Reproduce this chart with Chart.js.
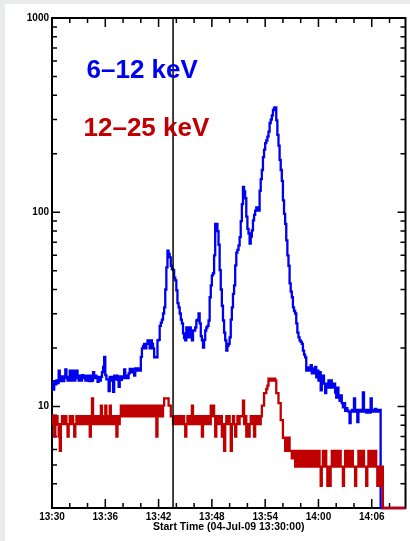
<!DOCTYPE html>
<html>
<head>
<meta charset="utf-8">
<script src="https://cdn.jsdelivr.net/npm/chart.js@4.4.1/dist/chart.umd.min.js"></script>
<style>
  html, body { margin: 0; padding: 0; background: #e9ecea; }
  #panel { position: absolute; left: 5px; top: 4px; right: 0; bottom: 0; background: #fff; }
  #lc { position: absolute; left: 0; top: 0; }
</style>
</head>
<body>
<div id="panel"></div>
<canvas id="lc" width="410" height="541"></canvas>
<script>
// light-curve bins, minutes after 13:30:00
const binMinutes = 0.125;

// 6-12 keV count rate per bin
const lowBand = [
  13.2, 12.2, 13.5, 13.0, 13.6, 13.2, 15.3, 14.0, 13.5, 14.3,
  13.5, 14.3, 15.5, 14.0, 13.6, 14.2, 15.3, 13.6, 14.5, 15.3,
  13.6, 14.2, 15.3, 14.0, 13.6, 14.4, 13.6, 14.5, 14.0, 14.4,
  13.6, 14.4, 14.0, 13.5, 14.4, 13.5, 13.6, 15.0, 14.0, 14.4,
  14.0, 13.4, 14.2, 13.6, 14.2, 15.0, 16.0, 18.0, 14.5, 13.8,
  13.8, 12.0, 14.2, 13.6, 14.2, 11.9, 14.4, 13.8, 14.4, 13.7,
  12.6, 14.3, 13.7, 14.3, 14.0, 15.5, 14.0, 14.4, 14.0, 14.8,
  15.6, 15.0, 15.6, 15.6, 14.4, 15.7, 15.7, 15.3, 15.7, 15.3,
  18.0, 19.9, 20.5, 21.0, 19.9, 21.0, 21.9, 21.0, 19.9, 21.9,
  21.0, 19.9, 17.9, 18.0, 17.9, 21.9, 22.0, 26.0, 27.0, 28.0,
  30.1, 32.4, 40.0, 52.0, 63.5, 61.0, 58.6, 53.0, 51.0, 50.3,
  46.0, 44.6, 39.6, 34.0, 32.4, 30.1, 28.0, 26.8, 23.8, 22.5,
  21.9, 25.5, 24.0, 22.7, 25.5, 24.0, 21.9, 24.6, 24.6, 25.5,
  27.7, 28.0, 30.1, 26.8, 23.0, 21.9, 20.1, 22.0, 24.6, 25.5,
  26.0, 27.7, 36.5, 42.0, 47.3, 48.5, 60.0, 87.0, 87.0, 80.0,
  68.0, 50.3, 40.0, 33.0, 27.7, 24.0, 21.9, 19.4, 20.5, 21.0,
  22.7, 28.0, 32.4, 38.0, 42.0, 53.3, 62.0, 64.0, 67.5, 74.5,
  90.0, 110, 135, 128, 118, 95.0, 82.0, 77.7, 69.0, 75.0,
  80.7, 90.7, 97.0, 102, 106, 104, 102, 129, 148, 165,
  192, 210, 227, 234, 245, 260, 288, 300, 315, 336,
  345, 347, 297, 250, 220, 186, 165, 145, 115, 98.0,
  87.0, 71.6, 60.0, 53.0, 43.0, 39.0, 36.5, 32.4, 31.0, 30.1,
  26.8, 24.0, 22.7, 21.9, 21.5, 21.0, 19.4, 18.5, 17.9, 15.3,
  15.9, 15.3, 15.9, 16.3, 14.8, 15.7, 14.8, 16.0, 14.1, 15.3,
  13.6, 15.0, 12.1, 13.1, 14.4, 13.1, 11.7, 13.1, 12.5, 13.6,
  12.5, 13.6, 13.1, 12.5, 13.1, 11.8, 11.1, 12.5, 11.1, 10.7,
  11.4, 10.4, 9.9, 10.4, 9.5, 9.8, 9.5, 9.4, 8.2, 9.4,
  9.6, 9.4, 11.0, 9.4, 9.6, 8.3, 9.4, 9.6, 9.4, 9.6,
  11.8, 9.4, 9.6, 9.3, 9.6, 9.4, 9.3, 11.0, 9.4, 9.6,
  9.4, 9.7, 9.4, 9.6, 9.4, 9.6, 3
];

// 12-25 keV count rate per bin
const highBand = [
  8.1, 8.9, 7.0, 8.1, 8.9, 8.1, 7.0, 5.9, 8.1, 8.9,
  8.1, 8.9, 8.9, 8.1, 7.0, 8.1, 8.9, 8.1, 8.9, 8.1,
  7.0, 8.1, 8.9, 8.1, 8.9, 8.1, 8.9, 8.9, 8.1, 8.9,
  8.1, 8.9, 8.1, 8.9, 7.0, 8.1, 11.0, 8.9, 8.1, 8.9,
  8.1, 8.9, 8.1, 8.9, 10.1, 8.1, 8.9, 8.1, 10.1, 8.9,
  8.1, 8.9, 10.1, 8.1, 8.9, 8.1, 8.9, 8.1, 7.0, 8.9,
  8.1, 8.9, 10.1, 8.9, 10.1, 8.9, 10.1, 8.9, 10.1, 8.9,
  10.1, 8.9, 10.1, 8.9, 10.1, 8.9, 10.1, 10.1, 8.9, 10.1,
  8.9, 10.1, 8.9, 10.1, 8.9, 10.1, 8.9, 10.1, 8.9, 10.1,
  8.9, 10.1, 8.9, 10.1, 7.0, 8.9, 10.1, 8.9, 10.1, 8.9,
  10.1, 11.0, 11.0, 11.0, 11.0, 10.1, 10.1, 8.9, 8.9, 8.1,
  8.9, 8.1, 8.9, 8.1, 8.9, 8.1, 8.9, 8.1, 8.9, 8.1,
  7.0, 8.1, 8.9, 8.1, 8.9, 8.1, 10.1, 8.1, 8.9, 8.1,
  8.9, 8.1, 8.9, 8.1, 8.9, 7.0, 8.1, 8.9, 8.1, 8.9,
  8.1, 8.9, 8.1, 10.1, 8.9, 10.1, 8.9, 7.0, 8.9, 8.1,
  8.9, 8.1, 8.9, 7.0, 8.1, 5.9, 8.1, 8.9, 8.1, 8.9,
  8.1, 5.9, 8.1, 8.9, 8.1, 7.0, 8.1, 8.9, 8.1, 8.9,
  8.9, 8.9, 10.7, 8.1, 8.9, 7.0, 8.1, 7.0, 8.1, 8.9,
  8.1, 8.9, 7.0, 8.1, 8.9, 8.1, 8.9, 8.1, 8.9, 10.1,
  10.1, 11.7, 11.7, 12.3, 12.8, 13.9, 13.9, 13.6, 13.6, 13.9,
  13.9, 13.6, 11.7, 11.7, 10.4, 10.4, 8.5, 8.5, 6.9, 6.9,
  5.9, 5.9, 6.9, 6.9, 5.9, 5.9, 5.4, 5.4, 5.9, 4.9,
  5.9, 4.9, 5.9, 4.9, 4.9, 5.9, 4.9, 5.9, 4.9, 5.9,
  4.9, 5.9, 5.9, 4.9, 5.9, 4.9, 5.9, 4.9, 5.9, 4.9,
  5.9, 4.9, 3.9, 4.9, 5.9, 4.9, 5.9, 4.9, 3.9, 4.9,
  3.9, 4.9, 5.9, 4.9, 5.9, 4.9, 4.9, 5.9, 4.9, 5.9,
  4.9, 4.9, 3.9, 4.9, 5.9, 4.9, 5.9, 4.9, 5.9, 4.9,
  5.9, 4.9, 4.9, 3.9, 4.9, 4.9, 5.9, 4.9, 5.9, 4.9,
  5.9, 4.9, 4.9, 3.9, 4.9, 5.9, 4.9, 5.9, 4.9, 5.9,
  4.9, 5.9, 4.9, 3.9, 4.9, 3.9, 4.9, 4.9, 3
];

const markerTime = 13.63;            // vertical time marker
const xRange = [0, 39.8];
const yRange = [3, 1000];
const xMajor = [0, 6, 12, 18, 24, 30, 36];
const xMinor = [2, 4, 8, 10, 14, 16, 20, 22, 26, 28, 32, 34, 38];
const yMajor = [10, 100, 1000];
const yMinor = [4, 5, 6, 7, 8, 9, 20, 30, 40, 50, 60, 70, 80, 90,
                200, 300, 400, 500, 600, 700, 800, 900];

const blue = '#0000f0';
const red = '#c00000';
const axisFont = '"Liberation Sans", Arial, sans-serif';

function toPoints(values) {
  const pts = values.map((v, i) => ({ x: i * binMinutes, y: v }));
  pts.push({ x: xRange[1], y: values[values.length - 1] });
  return pts;
}

function clock(min) {
  const t = 13 * 60 + 30 + min;
  const h = Math.floor(t / 60), m = Math.round(t % 60);
  return h + ':' + String(m).padStart(2, '0');
}

// box frame with inward ticks on all four sides, plus the band labels
const frameTicks = {
  id: 'frameTicks',
  beforeDatasetsDraw(chart) {
    const { ctx, chartArea: a, scales: { x, y } } = chart;
    ctx.save();
    ctx.strokeStyle = '#000';
    ctx.lineWidth = 2;
    ctx.strokeRect(a.left, a.top, a.right - a.left, a.bottom - a.top);
    ctx.lineWidth = 1.5;
    ctx.beginPath();
    const tx = (v, len) => {
      const px = x.getPixelForValue(v);
      ctx.moveTo(px, a.bottom); ctx.lineTo(px, a.bottom - len);
      ctx.moveTo(px, a.top); ctx.lineTo(px, a.top + len);
    };
    const ty = (v, len) => {
      const py = y.getPixelForValue(v);
      ctx.moveTo(a.left, py); ctx.lineTo(a.left + len, py);
      ctx.moveTo(a.right, py); ctx.lineTo(a.right - len, py);
    };
    xMajor.forEach(v => tx(v, 9));
    xMinor.forEach(v => tx(v, 5));
    yMajor.forEach(v => ty(v, 8));
    yMinor.forEach(v => ty(v, 5));
    ctx.stroke();
    ctx.restore();
  },
  afterDraw(chart) {
    const { ctx, chartArea: a } = chart;
    ctx.save();
    ctx.font = 'bold 26px ' + axisFont;
    ctx.textBaseline = 'alphabetic';
    ctx.fillStyle = blue;
    ctx.fillText('6\u201312 keV', a.left + 34.5, 77.5);
    ctx.fillStyle = red;
    ctx.fillText('12\u201325 keV', a.left + 31.5, 136);
    ctx.restore();
  }
};

new Chart(document.getElementById('lc'), {
  type: 'line',
  data: {
    datasets: [
      {
        data: [{ x: markerTime, y: yRange[0] }, { x: markerTime, y: yRange[1] }],
        borderColor: '#000', borderWidth: 1.5, pointRadius: 0, order: 0
      },
      {
        data: toPoints(highBand),
        borderColor: red, borderWidth: 2.3, pointRadius: 0,
        stepped: true, clip: false, order: 1
      },
      {
        data: toPoints(lowBand),
        borderColor: blue, borderWidth: 2.3, pointRadius: 0,
        stepped: true, clip: false, order: 2
      }
    ]
  },
  options: {
    responsive: false,
    animation: false,
    events: [],
    layout: { padding: { top: 18, right: 4.5, left: 0, bottom: 0 } },
    plugins: { legend: { display: false }, tooltip: { enabled: false } },
    scales: {
      x: {
        type: 'linear', min: xRange[0], max: xRange[1],
        grid: { display: false, drawTicks: false }, border: { display: false },
        afterBuildTicks: s => { s.ticks = xMajor.map(v => ({ value: v })); },
        afterFit: s => { s.height = 33; },
        ticks: {
          color: '#000', padding: 3, maxRotation: 0, autoSkip: false,
          font: { family: axisFont, size: 10, weight: 'bold' },
          callback: v => clock(v)
        },
        title: {
          display: true, text: 'Start Time (04-Jul-09 13:30:00)', color: '#000',
          font: { family: axisFont, size: 10.5, weight: 'bold' },
          padding: { top: 0, bottom: 8 }
        }
      },
      y: {
        type: 'logarithmic', min: yRange[0], max: yRange[1],
        grid: { display: false, drawTicks: false }, border: { display: false },
        afterBuildTicks: s => { s.ticks = yMajor.map(v => ({ value: v })); },
        afterFit: s => { s.width = 52; },
        ticks: {
          color: '#000', padding: 3,
          font: { family: axisFont, size: 10, weight: 'bold' },
          callback: v => String(v)
        }
      }
    }
  },
  plugins: [frameTicks]
});
</script>
</body>
</html>
